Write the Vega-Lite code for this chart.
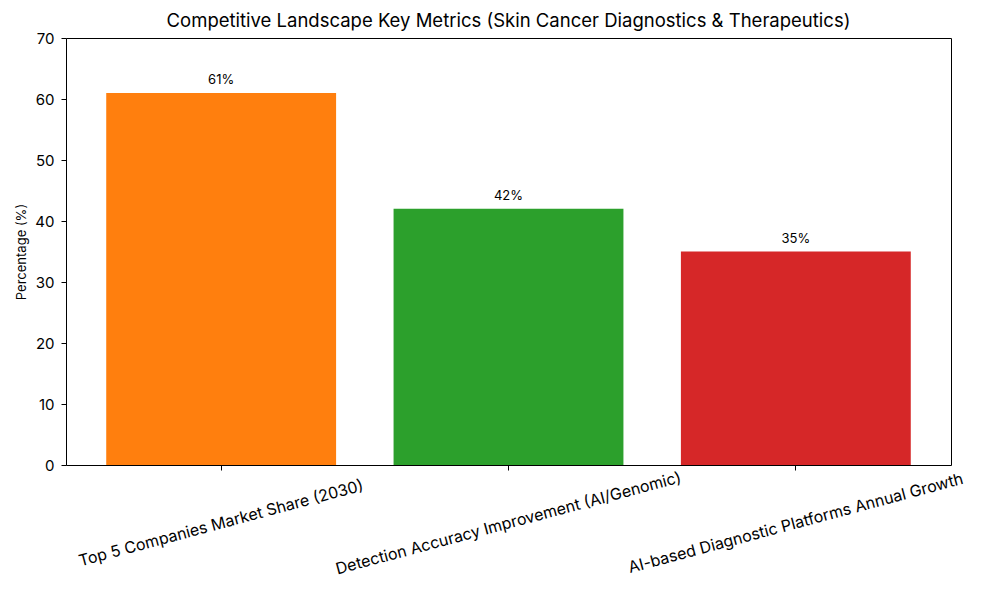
{
  "$schema": "https://vega.github.io/schema/vega-lite/v6.json",
  "width": 885,
  "height": 427,
  "autosize": {"type": "none"},
  "padding": {"left": 66, "top": 38, "right": 49, "bottom": 135},
  "background": "white",
  "config": {
    "font": "Inter",
    "view": {"stroke": "black", "strokeWidth": 1},
    "axis": {"domainColor": "black", "tickColor": "black", "labelColor": "black", "titleColor": "black", "grid": false}
  },
  "title": {"text": "Competitive Landscape Key Metrics (Skin Cancer Diagnostics & Therapeutics)", "fontSize": 18.5, "fontWeight": "normal", "font": "Inter", "anchor": "middle", "offset": 1, "color": "black"},
  "data": {"values": [
    {"metric": "Top 5 Companies Market Share (2030)", "value": 61, "label": "61%"},
    {"metric": "Detection Accuracy Improvement (AI/Genomic)", "value": 42, "label": "42%"},
    {"metric": "AI-based Diagnostic Platforms Annual Growth", "value": 35, "label": "35%"}
  ]},
  "encoding": {
    "x": {"field": "metric", "type": "nominal", "sort": null,
      "scale": {"paddingInner": 0.2, "paddingOuter": 0.14},
      "axis": {"title": null, "labelAngle": -15, "labelAlign": "center", "labelBaseline": "middle", "labelFontSize": 16, "tickSize": 5, "labelPadding": 53, "labelLimit": 0, "labelOverlap": false, "labelBound": false, "domain": false}},
    "y": {"field": "value", "type": "quantitative",
      "scale": {"domain": [0, 70], "nice": false},
      "axis": {"title": "Percentage (%)", "titleFontSize": 13, "titleFontWeight": "normal", "labelFontSize": 15, "values": [0,10,20,30,40,50,60,70], "tickSize": 5, "labelPadding": 7, "titlePadding": 6, "domain": false}}
  },
  "layer": [
    {"mark": {"type": "bar"},
     "encoding": {"color": {"field": "metric", "type": "nominal", "sort": null, "legend": null,
       "scale": {"range": ["#ff7f0e", "#2ca02c", "#d62728"]}}}},
    {"mark": {"type": "text", "baseline": "bottom", "dy": -6, "fontSize": 13, "color": "black"},
     "encoding": {"text": {"field": "label"}}}
  ]
}
